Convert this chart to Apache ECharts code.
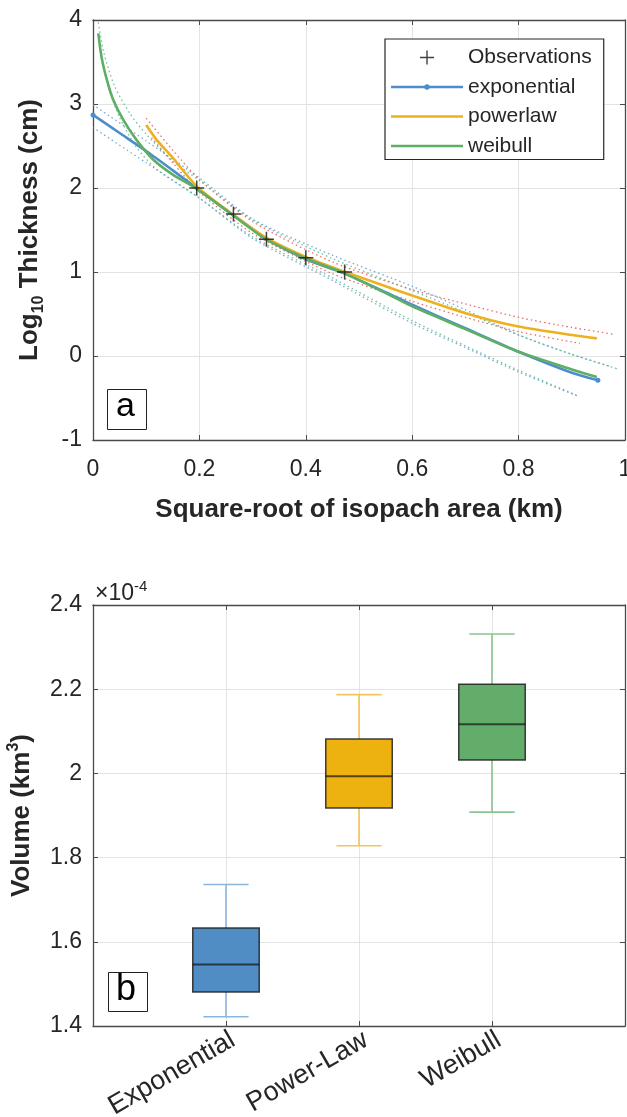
<!DOCTYPE html>
<html>
<head>
<meta charset="utf-8">
<script src="https://cdn.jsdelivr.net/npm/echarts@6/dist/echarts.min.js"></script>
<style>
  html, body { margin: 0; padding: 0; background: #fff; }
  #chart { width: 627px; height: 1117px; }
</style>
</head>
<body>
<div id="chart"></div>
<script>
// panel a: log10 thickness vs square-root of isopach area
var obsX = [0.195, 0.264, 0.326, 0.400, 0.473]
var obsY = [2.0, 1.69, 1.39, 1.17, 1.0]

var expX = [0, 0.05, 0.1, 0.15, 0.2, 0.26, 0.325, 0.4, 0.47, 0.55, 0.6, 0.7, 0.8, 0.9, 0.949]
var expY = [2.87, 2.655, 2.44, 2.21, 1.975, 1.69, 1.40, 1.15, 0.99, 0.76, 0.61, 0.33, 0.05, -0.2, -0.29]
var powX = [0.1, 0.12, 0.15, 0.195, 0.26, 0.325, 0.4, 0.47, 0.55, 0.6, 0.7, 0.8, 0.9, 0.947]
var powY = [2.75, 2.57, 2.36, 2.02, 1.70, 1.41, 1.18, 1.01, 0.83, 0.72, 0.51, 0.35, 0.25, 0.21]
var weiX = [0.01, 0.016, 0.026, 0.038, 0.057, 0.082, 0.113, 0.15, 0.195, 0.26, 0.325, 0.4, 0.47, 0.55, 0.6, 0.7, 0.8, 0.9, 0.947]
var weiY = [3.84, 3.56, 3.29, 3.05, 2.81, 2.57, 2.34, 2.16, 1.99, 1.69, 1.39, 1.16, 0.99, 0.75, 0.59, 0.32, 0.05, -0.16, -0.25]

// confidence bounds (dotted)
var expUpX = [0, 0.1, 0.2, 0.3, 0.45, 0.6, 0.7, 0.8, 0.9, 0.975]
var expUpY = [2.99, 2.56, 2.12, 1.63, 1.2, 0.83, 0.55, 0.25, 0.02, -0.13]
var expLoX = [0, 0.1, 0.2, 0.3, 0.45, 0.6, 0.7, 0.8, 0.912]
var expLoY = [2.72, 2.3, 1.88, 1.4, 0.9, 0.39, 0.1, -0.19, -0.48]
var powUpX = [0.1, 0.15, 0.2, 0.3, 0.45, 0.6, 0.7, 0.8, 0.9, 0.978]
var powUpY = [2.83, 2.45, 2.1, 1.6, 1.12, 0.79, 0.62, 0.46, 0.34, 0.26]
var powLoX = [0.11, 0.15, 0.2, 0.3, 0.45, 0.6, 0.7, 0.8, 0.915]
var powLoY = [2.6, 2.3, 1.95, 1.46, 0.98, 0.65, 0.46, 0.29, 0.15]
var weiUpX = [0.01, 0.02, 0.04, 0.07, 0.1, 0.15, 0.2, 0.3, 0.45, 0.6, 0.7, 0.8, 0.9, 0.985]
var weiUpY = [3.97, 3.62, 3.22, 2.88, 2.64, 2.32, 2.09, 1.62, 1.16, 0.78, 0.52, 0.25, 0.02, -0.15]
var weiLoX = [0.015, 0.03, 0.05, 0.08, 0.12, 0.2, 0.3, 0.45, 0.6, 0.7, 0.8, 0.91]
var weiLoY = [3.6, 3.18, 2.84, 2.5, 2.22, 1.88, 1.42, 0.93, 0.42, 0.12, -0.17, -0.47]

// panel b: volume boxplots (x 1e-4 km3)
var boxCategories = ['', 'Exponential', 'Power-Law', 'Weibull', '']
var boxLow = [1.422, 1.828, 1.908]
var boxQ1 = [1.481, 1.918, 2.032]
var boxMedian = [1.546, 1.993, 2.117]
var boxQ3 = [1.633, 2.082, 2.212]
var boxHigh = [1.736, 2.187, 2.331]

var FONT = "'Liberation Sans', Arial, Helvetica, sans-serif"
var TXT = '#262626'
var AXIS = '#4a4a4a'
var GRIDC = '#e3e3e3'

var boxFill = ['#4f8dc4', '#eeb210', '#62ad69']
var whiskerColor = ['#8cb5db', '#f2c55c', '#8ac48f']

function zip (xs, ys) {
  return xs.map(function (x, i) { return [x, ys[i]] })
}

var myChart = echarts.init(document.getElementById('chart'))

function valueAxisBase (grid, pos, min, max, interval) {
  return {
    type: 'value', gridIndex: grid, position: pos, min: min, max: max, interval: interval,
    axisLine: { show: true, onZero: false, lineStyle: { color: AXIS, width: 1.3 } },
    axisTick: { show: true, inside: true, length: 5, lineStyle: { color: AXIS } },
    splitLine: { show: false },
    axisLabel: { show: false }
  }
}

var xTop = valueAxisBase(0, 'bottom', 0, 1, 0.2)
xTop.splitLine = { show: true, lineStyle: { color: GRIDC, width: 1 } }
xTop.axisLabel = { show: true, color: TXT, fontSize: 23, fontFamily: FONT, margin: 18 }
xTop.name = 'Square-root of isopach area (km)'
xTop.nameLocation = 'middle'
xTop.nameGap = 57
xTop.nameTextStyle = { color: TXT, fontSize: 26, fontWeight: 'bold', fontFamily: FONT }

var yTop = valueAxisBase(0, 'left', -1, 4, 1)
yTop.splitLine = { show: true, lineStyle: { color: GRIDC, width: 1 } }
yTop.axisLabel = { show: true, color: TXT, fontSize: 23, fontFamily: FONT, margin: 11 }
yTop.name = 'Log{sub|10} Thickness (cm)'
yTop.nameLocation = 'middle'
yTop.nameGap = 46
yTop.nameTextStyle = {
  color: TXT, fontSize: 26, fontWeight: 'bold', fontFamily: FONT, lineHeight: 34,
  rich: { sub: { fontSize: 16, fontWeight: 'bold', fontFamily: FONT, color: TXT, lineHeight: 16, verticalAlign: 'bottom' } }
}

var yBot = valueAxisBase(1, 'left', 1.4, 2.4, 0.2)
yBot.splitLine = { show: true, lineStyle: { color: GRIDC, width: 1 } }
yBot.axisLabel = { show: true, color: TXT, fontSize: 23, fontFamily: FONT, margin: 11 }
yBot.name = 'Volume (km{sup|3})'
yBot.nameLocation = 'middle'
yBot.nameGap = 46
yBot.nameTextStyle = {
  color: TXT, fontSize: 26, fontWeight: 'bold', fontFamily: FONT, lineHeight: 34,
  rich: { sup: { fontSize: 16, fontWeight: 'bold', fontFamily: FONT, color: TXT, lineHeight: 16, verticalAlign: 'top' } }
}

function catAxis (pos, withLabels) {
  return {
    type: 'category', gridIndex: 1, position: pos, data: boxCategories, boundaryGap: false,
    axisLine: { show: true, onZero: false, lineStyle: { color: AXIS, width: 1.3 } },
    axisTick: { show: true, inside: true, length: 5, interval: 0, lineStyle: { color: AXIS } },
    splitLine: { show: withLabels, interval: 0, lineStyle: { color: GRIDC, width: 1 } },
    axisLabel: {
      show: withLabels, interval: 0, rotate: 30, color: TXT, fontSize: 27, fontFamily: FONT,
      margin: 16, padding: [0, -8, 0, 0]
    }
  }
}

var dotted = function (name, xs, ys, color) {
  return {
    name: name, type: 'line', xAxisIndex: 0, yAxisIndex: 0, data: zip(xs, ys),
    smooth: 0.25, symbol: 'none', silent: true,
    lineStyle: { color: color, width: 1.3, type: [1.5, 3], opacity: 0.85 }, z: 1
  }
}

var expData = zip(expX, expY).map(function (p, i, arr) {
  var end = i === 0 || i === arr.length - 1
  return { value: p, symbol: end ? 'circle' : 'none', symbolSize: end ? 5 : 0 }
})

var CROSS = 'path://M6.3,0H7.7V14H6.3Z M0,6.3H14V7.7H0Z'

myChart.setOption({
  animation: false,
  backgroundColor: '#fff',
  textStyle: { fontFamily: FONT },
  grid: [
    { left: 93, right: 2, top: 20, height: 420, containLabel: false, outerBoundsMode: 'none' },
    { left: 93, right: 2, top: 605, height: 421, containLabel: false, outerBoundsMode: 'none' }
  ],
  xAxis: [
    xTop,
    valueAxisBase(0, 'top', 0, 1, 0.2),
    catAxis('bottom', true),
    catAxis('top', false)
  ],
  yAxis: [
    yTop,
    valueAxisBase(0, 'right', -1, 4, 1),
    yBot,
    valueAxisBase(1, 'right', 1.4, 2.4, 0.2)
  ],
  legend: {
    orient: 'vertical', left: 385, top: 39,
    padding: [8, 12, 3, 6], itemGap: 8.5, itemWidth: 72, itemHeight: 14,
    backgroundColor: '#fff', borderColor: '#262626', borderWidth: 1.2,
    textStyle: { color: TXT, fontSize: 21, fontFamily: FONT },
    data: [
      { name: 'Observations', icon: CROSS, itemStyle: { color: '#111' } },
      { name: 'exponential', icon: 'path://M0,4.75H72V7.25H0Z M36,3.2A2.8,2.8 0 1 1 36,8.8A2.8,2.8 0 1 1 36,3.2Z', itemStyle: { color: '#4a8fcc' } },
      { name: 'powerlaw', icon: 'path://M0,0H72V2.6H0Z', itemStyle: { color: '#edb120' } },
      { name: 'weibull', icon: 'path://M0,0H72V2.6H0Z', itemStyle: { color: '#5fae65' } }
    ]
  },
  graphic: [
    { type: 'rect', left: 107, top: 389, shape: { width: 39, height: 40 }, style: { fill: '#fff', stroke: '#222', lineWidth: 1 }, z: 100 },
    { type: 'text', left: 116, top: 390, style: { text: 'a', font: '34px ' + FONT, fill: '#000' }, z: 101 },
    { type: 'rect', left: 108, top: 972, shape: { width: 39, height: 39 }, style: { fill: '#fff', stroke: '#222', lineWidth: 1 }, z: 100 },
    { type: 'text', left: 116, top: 972, style: { text: 'b', font: '36px ' + FONT, fill: '#000' }, z: 101 },
    {
      type: 'text', left: 95, top: 579, z: 101,
      style: {
        text: '×10{sup|-4}', fill: TXT, font: '23px ' + FONT, lineHeight: 30,
        rich: { sup: { fontSize: 15, fontFamily: FONT, fill: TXT, lineHeight: 14, verticalAlign: 'top' } }
      }
    }
  ],
  series: [
    dotted('expUp', expUpX, expUpY, '#5d9ad4'),
    dotted('expLo', expLoX, expLoY, '#5d9ad4'),
    dotted('powUp', powUpX, powUpY, '#e0584e'),
    dotted('powLo', powLoX, powLoY, '#e0584e'),
    dotted('weiUp', weiUpX, weiUpY, '#55b58a'),
    dotted('weiLo', weiLoX, weiLoY, '#55b58a'),
    {
      name: 'exponential', type: 'line', xAxisIndex: 0, yAxisIndex: 0, data: expData,
      smooth: 0.25, showAllSymbol: true,
      itemStyle: { color: '#4a8fcc' }, lineStyle: { color: '#4a8fcc', width: 2.6 }, z: 3
    },
    {
      name: 'powerlaw', type: 'line', xAxisIndex: 0, yAxisIndex: 0, data: zip(powX, powY),
      smooth: 0.25, symbol: 'none',
      itemStyle: { color: '#edb120' }, lineStyle: { color: '#edb120', width: 2.6 }, z: 4
    },
    {
      name: 'weibull', type: 'line', xAxisIndex: 0, yAxisIndex: 0, data: zip(weiX, weiY),
      smooth: 0.25, symbol: 'none',
      itemStyle: { color: '#5fae65' }, lineStyle: { color: '#5fae65', width: 2.6 }, z: 5
    },
    {
      name: 'Observations', type: 'scatter', xAxisIndex: 0, yAxisIndex: 0, data: zip(obsX, obsY),
      symbol: CROSS, symbolSize: 15, itemStyle: { color: '#111' }, z: 6
    },
    {
      name: 'volume', type: 'custom', xAxisIndex: 2, yAxisIndex: 2,
      data: boxLow.map(function (v, i) {
        return [i + 1, boxLow[i], boxQ1[i], boxMedian[i], boxQ3[i], boxHigh[i]]
      }),
      encode: { x: 0, y: [1, 2, 3, 4, 5] },
      renderItem: function (params, api) {
        var idx = params.dataIndex
        var x = api.value(0)
        var pLo = api.coord([x, api.value(1)])
        var pQ1 = api.coord([x, api.value(2)])
        var pMed = api.coord([x, api.value(3)])
        var pQ3 = api.coord([x, api.value(4)])
        var pHi = api.coord([x, api.value(5)])
        var band = api.size([1, 0])[0]
        var half = band * 0.25
        var cap = band * 0.17
        var cx = pMed[0]
        var wStyle = { stroke: whiskerColor[idx], lineWidth: 1.6 }
        return {
          type: 'group',
          children: [
            { type: 'line', shape: { x1: cx, y1: pHi[1], x2: cx, y2: pQ3[1] }, style: wStyle },
            { type: 'line', shape: { x1: cx, y1: pLo[1], x2: cx, y2: pQ1[1] }, style: wStyle },
            { type: 'line', shape: { x1: cx - cap, y1: pHi[1], x2: cx + cap, y2: pHi[1] }, style: wStyle },
            { type: 'line', shape: { x1: cx - cap, y1: pLo[1], x2: cx + cap, y2: pLo[1] }, style: wStyle },
            {
              type: 'rect',
              shape: { x: cx - half, y: pQ3[1], width: half * 2, height: pQ1[1] - pQ3[1] },
              style: { fill: boxFill[idx], stroke: 'rgba(30,30,30,0.85)', lineWidth: 1.5 }
            },
            {
              type: 'line', shape: { x1: cx - half, y1: pMed[1], x2: cx + half, y2: pMed[1] },
              style: { stroke: 'rgba(20,20,20,0.7)', lineWidth: 2 }
            }
          ]
        }
      },
      z: 3
    }
  ]
})

window.addEventListener('resize', function () { myChart.resize() })
</script>
</body>
</html>
